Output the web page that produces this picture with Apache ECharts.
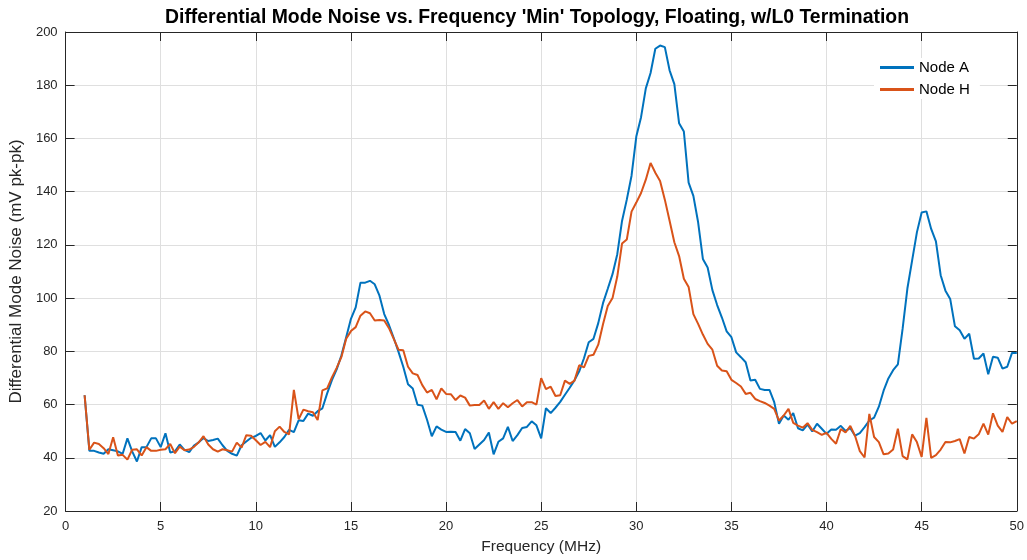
<!DOCTYPE html>
<html>
<head>
<meta charset="utf-8">
<script src="https://cdn.jsdelivr.net/npm/echarts@6/dist/echarts.min.js"></script>
<style>
html,body{margin:0;padding:0;background:#fff;overflow:hidden;}
#chart{width:1027px;height:560px;}
</style>
</head>
<body>
<div id="chart"></div>
<script>
// Frequency sampling grid (MHz): 1.00 to 50.00 in 0.25 MHz steps
const freqStartMHz = 1;
const freqStepMHz = 0.25;

// Node A (mV pk-pk), one value per frequency sample
const nodeA = [
63.5,42.6,42.6,42.0,41.5,43.2,42.8,42.4,41.5,47.3,
42.4,38.6,44.0,44.0,47.3,47.3,44.0,49.2,42.0,42.4,
45.0,43.0,42.1,44.6,45.8,47.4,46.3,46.7,47.2,44.7,
42.6,41.5,40.8,44.7,46.1,47.5,48.2,49.3,46.5,48.5,
44.1,45.8,47.8,50.5,49.6,54.1,53.8,56.6,55.8,57.5,
58.6,64.2,69.2,73.2,78.5,85.3,92.2,96.5,105.8,105.8,
106.5,105.2,100.9,94.0,89.9,85.0,79.8,74.2,67.6,66.0,
59.9,59.6,54.3,48.1,51.8,50.6,49.7,49.8,49.7,46.4,
50.8,49.2,43.3,45.0,46.7,49.5,41.3,46.0,47.3,51.6,
46.3,48.5,51.2,51.6,53.7,52.2,47.3,58.6,56.8,58.8,
61.0,63.7,66.3,69.1,72.5,77.4,83.4,84.7,90.6,98.1,
103.5,109.0,116.5,129.0,137.0,146.0,160.7,168.0,178.8,184.6,
193.7,194.9,194.3,185.6,180.4,165.7,162.6,143.4,138.4,128.5,
114.7,111.5,103.0,97.4,92.7,87.5,85.3,79.6,77.8,75.9,
69.0,69.3,65.9,65.5,65.5,60.9,52.8,55.9,54.3,56.8,
51.1,50.3,52.5,49.9,52.8,50.9,49.0,50.6,50.5,52.0,
50.1,51.1,48.3,49.3,51.5,54.0,55.1,59.2,65.2,69.8,
72.9,75.1,88.5,103.6,114.2,124.7,132.2,132.6,126.0,121.3,
108.6,102.8,99.7,89.4,87.9,84.7,86.6,77.2,77.3,79.2,
71.4,78.0,77.6,73.5,74.2,79.4,79.4
];

// Node H (mV pk-pk), one value per frequency sample
const nodeH = [
63.5,43.0,45.7,45.2,43.6,41.4,47.7,40.9,41.1,39.3,
43.0,43.2,40.9,44.0,42.6,42.6,43.0,43.2,45.2,41.7,
44.2,42.8,43.1,44.1,45.8,48.1,45.0,43.2,42.3,43.2,
42.8,42.3,45.7,43.8,48.5,48.3,46.6,44.8,46.0,44.0,
50.0,51.7,49.7,48.8,65.5,54.5,58.1,57.5,57.1,54.2,
65.3,66.1,70.2,73.8,77.9,84.7,87.6,89.1,93.4,95.0,
94.3,91.6,91.8,91.6,88.7,84.7,80.6,80.4,74.2,71.7,
71.1,67.3,64.5,65.5,62.0,66.1,64.0,63.9,61.7,63.4,
62.6,59.6,59.8,59.8,61.5,58.4,60.9,58.4,60.5,59.0,
60.5,61.7,59.3,60.9,60.9,60.0,69.9,65.8,66.7,63.2,
63.5,69.0,67.8,69.0,74.8,74.0,78.3,78.7,82.5,90.2,
97.0,100.0,108.1,120.5,122.0,132.5,135.9,139.5,144.5,150.8,
147.1,144.0,137.0,129.1,121.0,115.8,107.3,104.2,94.0,90.3,
86.3,82.8,80.6,74.6,72.8,72.5,69.3,68.1,66.8,64.0,
64.4,62.1,61.3,60.6,59.6,58.4,54.0,55.9,58.4,53.1,
52.1,51.3,53.0,50.5,49.6,48.6,49.4,47.1,45.3,50.8,
49.5,52.0,48.2,42.5,40.1,56.5,47.8,45.9,41.3,41.6,
43.1,50.9,40.6,39.4,48.8,45.9,40.3,55.0,40.0,41.0,
43.1,45.9,45.8,46.3,47.0,41.6,47.8,47.2,48.8,52.8,
48.7,56.7,52.1,49.7,55.3,52.8,53.8
];

const seriesNames = ['Node A', 'Node H'];
const seriesColors = ['#0072BD', '#D95319'];
const titleText = "Differential Mode Noise vs. Frequency 'Min' Topology, Floating, w/L0 Termination";
const xAxisName = 'Frequency (MHz)';
const yAxisName = 'Differential Mode Noise (mV pk-pk)';

const freq = nodeA.map((_, i) => +(freqStartMHz + i * freqStepMHz).toFixed(2));
const pairs = arr => arr.map((v, i) => [freq[i], v]);

const FONT = '"Liberation Sans", Arial, Helvetica, sans-serif';
const AX = '#262626';

const chart = echarts.init(document.getElementById('chart'), null, {renderer: 'canvas'});
const baseX = {
  type: 'value', min: 0, max: 50, interval: 5,
  axisLine: {show: true, onZero: false, lineStyle: {color: AX, width: 1}},
  axisTick: {show: true, inside: true, length: 9, lineStyle: {color: AX}}
};
const baseY = {
  type: 'value', min: 20, max: 200, interval: 20,
  axisLine: {show: true, onZero: false, lineStyle: {color: AX, width: 1}},
  axisTick: {show: true, inside: true, length: 9, lineStyle: {color: AX}}
};
chart.setOption({
  animation: false,
  backgroundColor: '#ffffff',
  title: {
    text: titleText, left: 532, top: 3, textAlign: 'center',
    textStyle: {fontFamily: FONT, fontSize: 19.4, fontWeight: 'bold', color: '#000'}
  },
  legend: {
    data: seriesNames, orient: 'vertical', left: 874, top: 58,
    icon: 'rect', itemWidth: 34, itemHeight: 3, itemGap: 7,
    backgroundColor: '#ffffff', padding: [2, 10, 2, 6],
    textStyle: {fontFamily: FONT, fontSize: 15, color: '#000'}
  },
  grid: {left: 65, right: 7, top: 32, bottom: 45, containLabel: false},
  xAxis: [
    Object.assign({}, baseX, {
      position: 'bottom',
      name: xAxisName, nameLocation: 'middle', nameGap: 28,
      nameTextStyle: {fontFamily: FONT, fontSize: 15.5, color: AX},
      axisLabel: {fontFamily: FONT, fontSize: 13, color: AX, margin: 9},
      splitLine: {show: true, lineStyle: {color: '#dfdfdf', width: 1}}
    }),
    Object.assign({}, baseX, {
      position: 'top', axisLabel: {show: false}, splitLine: {show: false}
    })
  ],
  yAxis: [
    Object.assign({}, baseY, {
      position: 'left',
      name: yAxisName, nameLocation: 'middle', nameGap: 29,
      nameTextStyle: {fontFamily: FONT, fontSize: 17, color: AX},
      axisLabel: {fontFamily: FONT, fontSize: 13, color: AX, margin: 8},
      splitLine: {show: true, lineStyle: {color: '#dfdfdf', width: 1}}
    }),
    Object.assign({}, baseY, {
      position: 'right', axisLabel: {show: false}, splitLine: {show: false}
    })
  ],
  series: [
    {name: seriesNames[0], type: 'line', data: pairs(nodeA), symbol: 'none',
     xAxisIndex: 0, yAxisIndex: 0, color: seriesColors[0],
     lineStyle: {width: 2, color: seriesColors[0]}, z: 3},
    {name: seriesNames[1], type: 'line', data: pairs(nodeH), symbol: 'none',
     xAxisIndex: 0, yAxisIndex: 0, color: seriesColors[1],
     lineStyle: {width: 2, color: seriesColors[1]}, z: 4}
  ]
});
</script>
</body>
</html>
